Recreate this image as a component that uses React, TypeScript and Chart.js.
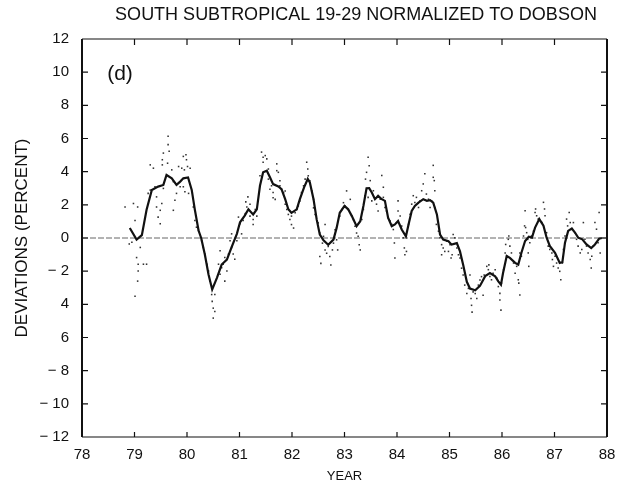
import React, { useEffect, useRef } from "react";
import { Chart, registerables } from "chart.js";

Chart.register(...registerables);

const TITLE = "SOUTH SUBTROPICAL 19-29 NORMALIZED TO DOBSON";
const X_TITLE = "YEAR";
const Y_TITLE = "DEVIATIONS (PERCENT)";
const PANEL_LABEL = "(d)";

const X_TICKS = [78, 79, 80, 81, 82, 83, 84, 85, 86, 87, 88];
const X_TICK_LABELS = ["78", "79", "80", "81", "82", "83", "84", "85", "86", "87", "88"];
const Y_TICKS = [12, 10, 8, 6, 4, 2, 0, -2, -4, -6, -8, -10, -12];
const Y_TICK_LABELS = ["12", "10", "8", "6", "4", "2", "0", "\u2212 2", "4", "6", "\u2212 8", "\u2212 10", "\u2212 12"];

// smoothed series
const LINE_YEARS = [
  78.91, 79.04, 79.14, 79.23, 79.33, 79.45, 79.55, 79.61, 79.71, 79.8, 79.87, 79.93, 80.02, 80.09, 80.15, 80.22,
  80.27, 80.34, 80.41, 80.48, 80.57, 80.66, 80.76, 80.85, 80.95, 81.01, 81.1, 81.17, 81.26, 81.33, 81.39, 81.45,
  81.52, 81.58, 81.64, 81.74, 81.8, 81.87, 81.93, 81.99, 82.09, 82.15, 82.23, 82.3, 82.34, 82.41, 82.47, 82.53,
  82.6, 82.69, 82.79, 82.85, 82.91, 83.0, 83.07, 83.14, 83.23, 83.3, 83.36, 83.42, 83.47, 83.52, 83.58, 83.64,
  83.71, 83.77, 83.83, 83.9, 83.96, 84.02, 84.09, 84.17, 84.22, 84.28, 84.34, 84.41, 84.5, 84.57, 84.63, 84.69,
  84.76, 84.82, 84.88, 84.98, 85.04, 85.14, 85.2, 85.26, 85.33, 85.39, 85.49, 85.58, 85.68, 85.77, 85.87, 85.93,
  85.98, 86.02, 86.09, 86.15, 86.25, 86.31, 86.37, 86.44, 86.51, 86.57, 86.63, 86.71, 86.79, 86.85, 86.91, 87.01,
  87.1, 87.15, 87.2, 87.26, 87.33, 87.39, 87.45, 87.53, 87.61, 87.7, 87.77, 87.85, 87.9,
];
const LINE_VALUES = [
  0.6, -0.1, 0.17, 1.7, 2.9, 3.1, 3.2, 3.8, 3.6, 3.2, 3.4, 3.6, 3.65, 2.9, 1.7, 0.45,
  0.0, -1.0, -2.2, -3.1, -2.4, -1.6, -1.3, -0.55, 0.25, 0.95, 1.35, 1.73, 1.42, 1.73, 3.15, 3.96,
  4.06, 3.66, 3.25, 3.11, 2.95, 2.34, 1.73, 1.52, 1.73, 2.34, 3.05, 3.56, 3.35, 2.34, 1.12, 0.2,
  -0.14, -0.41, -0.1, 0.61, 1.52, 1.93, 1.73, 1.32, 0.71, 1.01, 1.93, 3.0, 3.01, 2.74, 2.34, 2.54,
  2.34, 2.24, 1.22, 0.71, 0.82, 1.02, 0.51, 0.1, 0.82, 1.63, 1.93, 2.13, 2.34, 2.24, 2.28, 2.13,
  1.42, 0.21, -0.1, -0.2, -0.4, -0.31, -0.81, -1.62, -2.64, -3.05, -3.15, -2.89, -2.3, -2.12, -2.31, -2.62,
  -2.82, -2.11, -1.09, -1.2, -1.5, -1.6, -0.89, -0.18, 0.08, 0.02, 0.63, 1.14, 0.74, 0.02, -0.48, -0.89,
  -1.5, -1.46, -0.28, 0.43, 0.57, 0.33, 0.02, -0.08, -0.39, -0.61, -0.39, -0.04, 0.0,
];

// individual (dotted) values
const DOT_YEARS = [
  78.82, 78.98, 79.06, 79.01, 78.95, 78.9, 79.11, 79.04, 79.07, 79.17, 79.07, 79.23, 79.06, 79.01, 79.26, 79.3,
  79.3, 79.36, 79.39, 79.42, 79.45, 79.49, 79.49, 79.42, 79.52, 79.55, 79.55, 79.53, 79.53, 79.64, 79.64, 79.66,
  79.63, 79.71, 79.74, 79.74, 79.77, 79.8, 79.84, 79.87, 79.9, 79.93, 79.95, 79.98, 79.99, 80.01, 80.06, 79.93,
  79.96, 80.03, 80.12, 80.15, 80.18, 80.22, 80.28, 80.31, 80.34, 80.38, 80.41, 80.44, 80.47, 80.48, 80.5, 80.5,
  80.53, 80.53, 80.6, 80.63, 80.63, 80.66, 80.69, 80.72, 80.72, 80.76, 80.79, 80.82, 80.85, 80.85, 80.88, 80.91,
  80.95, 80.98, 81.01, 81.04, 81.07, 81.11, 81.12, 81.14, 81.16,
  81.2, 81.2, 81.26, 81.26, 81.3, 81.33, 81.39, 81.42, 81.45, 81.45, 81.49, 81.52, 81.55, 81.55, 81.58, 81.61,
  81.64, 81.64, 81.68, 81.71, 81.71, 81.74, 81.77, 81.77, 81.8, 81.84, 81.87, 81.87, 81.9, 81.93, 81.96, 81.99,
  81.99, 82.03, 82.06, 82.09, 82.12, 82.15, 82.18, 82.22, 82.25, 82.28, 82.3, 82.31, 82.34, 82.38, 82.41, 82.41,
  82.44, 82.5, 82.53, 82.53, 82.55, 82.58, 82.6, 82.63, 82.63, 82.66, 82.69, 82.72, 82.74, 82.77, 82.79, 82.82,
  82.85, 82.87, 82.91, 82.95, 82.98, 83.01, 83.04, 83.07, 83.11, 83.14, 83.17, 83.2, 83.23, 83.26, 83.28, 83.3,
  83.33, 83.36, 83.39, 83.4, 83.42, 83.45, 83.47,
  83.49, 83.45, 83.52, 83.55, 83.61, 83.64, 83.68, 83.71, 83.74, 83.74, 83.77, 83.8, 83.83, 83.87, 83.9, 83.93,
  83.95, 83.96, 83.99, 84.02, 84.02, 84.06, 84.09, 84.12, 84.14, 84.15, 84.18, 84.22, 84.25, 84.28, 84.31, 84.34,
  84.37, 84.41, 84.44, 84.47, 84.5, 84.53, 84.56, 84.6, 84.63, 84.66, 84.69, 84.69, 84.71, 84.72, 84.72, 84.75,
  84.79, 84.82, 84.85, 84.85, 84.88, 84.91, 84.95, 84.98, 85.01, 85.03, 85.05, 85.07, 85.1, 85.14, 85.17, 85.2,
  85.23, 85.26, 85.29, 85.33, 85.36, 85.39, 85.41, 85.42, 85.43, 85.45, 85.49, 85.52, 85.55, 85.58, 85.61, 85.64,
  85.66, 85.71, 85.74, 85.75,
  85.77, 85.8, 85.83, 85.87, 85.9, 85.93, 85.96, 85.96, 85.98, 85.99, 86.03, 86.06, 86.07, 86.09, 86.12, 86.13,
  86.15, 86.18, 86.22, 86.25, 86.28, 86.31, 86.32, 86.34, 86.34, 86.37, 86.41, 86.43, 86.44, 86.45, 86.47, 86.49,
  86.5, 86.51, 86.53, 86.56, 86.6, 86.63, 86.64, 86.66, 86.69, 86.76, 86.79, 86.81, 86.82, 86.85, 86.88, 86.91,
  86.95, 86.96, 86.98, 87.01, 87.04, 87.07, 87.1, 87.12, 87.15, 87.17, 87.2, 87.23, 87.25, 87.28, 87.3, 87.33,
  87.36, 87.39, 87.42, 87.45, 87.49, 87.52, 87.55, 87.58, 87.61, 87.64, 87.68, 87.7, 87.71, 87.74, 87.77, 87.8,
  87.83, 87.85, 87.87,
];
const DOT_VALUES = [
  1.87, 2.08, 1.87, 1.06, -0.26, -0.36, -0.57, -1.18, -1.58, -1.58, -1.99, -1.58, -2.6, -3.51, 2.69, 2.89,
  4.41, 4.21, 3.09, 1.87, 1.26, 1.67, 0.86, 2.48, 2.08, 2.99, 5.12, 4.72, 4.41, 6.14, 5.63, 5.23,
  4.51, 4.11, 3.4, 1.67, 2.28, 2.69, 4.31, 3.09, 4.21, 4.92, 4.11, 5.02, 4.72, 4.31, 4.21, 3.09,
  2.79, 2.69, 1.87, 1.06, 0.65, 0.45, -0.16, -0.57, -0.97, -1.58, -1.99, -2.6, -3.41, -3.82, -4.23, -4.83,
  -3.41, -4.43, -1.58, -0.77, -2.19, -1.79, -1.58, -1.18, -2.6, -1.99, -0.97, -0.16, -0.57, 0.25, -0.97, -1.28,
  -0.16, 1.26, 0.86, 0.25, 1.06, 1.47, 2.18, 1.87, 2.48,
  2.03, 1.32, 1.11, 0.81, 1.72, 1.32, 3.75, 5.18, 4.87, 4.57, 4.97, 4.77, 4.16, 3.55, 2.94, 3.15,
  2.74, 2.43, 2.33, 4.47, 4.06, 3.96, 3.45, 3.15, 2.94, 2.74, 2.84, 2.03, 1.72, 1.42, 1.11, 1.32,
  0.81, 0.6, 1.52, 1.72, 1.93, 2.23, 2.74, 3.15, 3.55, 4.57, 4.16, 3.75, 3.45, 2.84, 2.33, 1.82,
  1.42, 0.91, 0.3, -1.12, -1.53, -0.31, 0.1, 0.81, -0.72, -0.92, -0.51, -1.12, -1.63, -0.72, -0.31, 0.5,
  -0.11, -0.72, 1.32, 1.72, 2.13, 1.93, 2.84, 1.72, 2.33, 1.32, 1.11, 0.71, 0.3, 0.1, -0.41, -0.72,
  1.11, 1.72, 2.54, 3.55, 3.96, 4.87, 4.36,
  3.46, 2.45, 2.24, 2.85, 2.04, 1.63, 2.34, 3.77, 3.06, 2.45, 1.84, 1.63, 1.23, 1.02, 0.82, 0.51,
  -0.3, -1.21, 0.92, 1.63, 2.24, 1.33, 0.72, 0.01, -0.6, -1.01, -0.81, 0.82, 1.43, 2.04, 2.55, 2.14,
  2.45, 1.84, 2.24, 2.85, 3.26, 3.87, 2.65, 2.34, 1.84, 2.24, 4.38, 3.66, 3.46, 2.85, 1.84, 0.82,
  0.41, 0.01, -0.4, -1.01, -0.6, -0.81, -0.2, -0.81, -0.4, -1.21, -1.01, 0.21, 0.01, -0.6, -1.01, -1.21,
  -1.82, -2.23, -2.84, -3.35, -3.04, -2.23, -3.65, -4.06, -4.47, -3.25, -3.35, -3.65, -2.84, -2.53, -2.33, -3.45,
  -2.23, -1.71, -1.91, -1.62,
  -2.32, -2.52, -2.12, -1.91, -2.42, -2.93, -3.34, -3.74, -4.35, -2.72, -1.91, -0.9, -0.39, -1.1, -0.08, 0.12,
  -0.49, -0.9, -1.51, -2.12, -1.71, -2.52, -2.72, -3.44, -0.9, -1.1, 0.12, 0.73, 1.64, 0.63, 0.32, -0.08,
  -0.9, -1.71, -0.29, 0.12, 0.42, 1.54, 1.75, 1.34, 1.14, 0.93, 2.15, 1.75, 1.34, 0.32, -0.49, -0.69,
  -0.9, -1.3, -1.71, -1.1, -1.51, -1.81, -2.01, -2.52, -1.51, -0.69, 0.12, 1.14, 0.73, 1.54, 0.93, 0.53,
  0.93, 0.32, -0.08, -0.49, -0.9, -0.69, 0.93, -0.08, -0.49, -0.9, -1.3, -1.81, -1.1, -0.49, 0.93, 0.53,
  -0.29, 1.54, -0.9,
];

const ZERO_LINE_YEARS = [78, 88];
const ZERO_LINE_VALUES = [0, 0];

const FONT = "'Liberation Sans', Arial, Helvetica, sans-serif";
const INK = "#111";

const framePlugin = {
  id: "frame",
  afterDraw(chart: any) {
    const { ctx, chartArea, scales } = chart;
    const { left, right, top, bottom } = chartArea;
    const xs = scales.x;
    const ys = scales.y;
    ctx.save();
    ctx.strokeStyle = INK;
    ctx.lineWidth = 1.2;
    ctx.beginPath();
    ctx.moveTo(left, top);
    ctx.lineTo(right, top);
    ctx.moveTo(left, bottom);
    ctx.lineTo(right, bottom);
    for (const t of xs.ticks) {
      const px = xs.getPixelForValue(t.value);
      ctx.moveTo(px, top);
      ctx.lineTo(px, top + 6);
      ctx.moveTo(px, bottom);
      ctx.lineTo(px, bottom - 5);
    }
    for (const t of ys.ticks) {
      const py = ys.getPixelForValue(t.value);
      ctx.moveTo(left, py);
      ctx.lineTo(left + 6, py);
      ctx.moveTo(right, py);
      ctx.lineTo(right - 6, py);
    }
    ctx.stroke();
    ctx.lineWidth = 2;
    ctx.beginPath();
    ctx.moveTo(left, top);
    ctx.lineTo(left, bottom);
    ctx.moveTo(right, top);
    ctx.lineTo(right, bottom);
    ctx.stroke();
    ctx.fillStyle = INK;
    ctx.font = `21px ${FONT}`;
    ctx.textBaseline = "middle";
    ctx.textAlign = "left";
    ctx.fillText(PANEL_LABEL, xs.getPixelForValue(78.48), ys.getPixelForValue(9.85));
    // chart title
    ctx.font = `18px ${FONT}`;
    ctx.textAlign = "center";
    ctx.fillText(TITLE, 356, 15);
    ctx.restore();
  },
};

export default function App() {
  const canvasRef = useRef<HTMLCanvasElement | null>(null);

  useEffect(() => {
    document.body.style.margin = "0";
    const canvas = canvasRef.current;
    if (!canvas) return;

    const line = LINE_YEARS.map((x, i) => ({ x, y: LINE_VALUES[i] }));
    const dots = DOT_YEARS.map((x, i) => ({ x, y: DOT_VALUES[i] }));
    const zero = ZERO_LINE_YEARS.map((x, i) => ({ x, y: ZERO_LINE_VALUES[i] }));

    const chart = new Chart(canvas, {
      type: "scatter",
      data: {
        datasets: [
          {
            type: "line",
            data: line,
            borderColor: INK,
            borderWidth: 2.2,
            pointRadius: 0,
            tension: 0,
            fill: false,
            order: 0,
          },
          {
            type: "scatter",
            data: dots,
            backgroundColor: "#333",
            borderWidth: 0,
            pointRadius: 1.1,
            pointStyle: "rect",
            order: 1,
          },
          {
            type: "line",
            data: zero,
            borderColor: "#666",
            borderWidth: 1,
            borderDash: [6, 2],
            pointRadius: 0,
            fill: false,
            order: 2,
          },
        ] as any,
      },
      options: {
        animation: false,
        responsive: false,
        events: [],
        layout: { padding: { left: 0, right: 20, top: 39, bottom: 0 } },
        plugins: {
          legend: { display: false },
          tooltip: { enabled: false },
          title: { display: false },
        },
        scales: {
          x: {
            type: "linear",
            min: 78,
            max: 88,
            afterFit: (s: any) => {
              s.height = 52;
            },
            afterBuildTicks: (s: any) => {
              s.ticks = X_TICKS.map((v) => ({ value: v }));
            },
            grid: { display: false, drawTicks: false },
            border: { display: false },
            ticks: {
              color: INK,
              font: { family: FONT, size: 15 },
              padding: 9,
              maxRotation: 0,
              callback: (v: any) => {
                const i = X_TICKS.indexOf(Number(v));
                return i >= 0 ? X_TICK_LABELS[i] : "";
              },
            },
            title: {
              display: true,
              text: X_TITLE,
              color: INK,
              font: { family: FONT, size: 13 },
              padding: { top: 0, bottom: 5 },
            },
          },
          y: {
            type: "linear",
            min: -12,
            max: 12,
            afterFit: (s: any) => {
              s.width = 82;
            },
            afterBuildTicks: (s: any) => {
              s.ticks = Y_TICKS.map((v) => ({ value: v }));
            },
            grid: { display: false, drawTicks: false },
            border: { display: false },
            ticks: {
              color: INK,
              font: { family: FONT, size: 15 },
              padding: 13,
              callback: (v: any) => {
                const i = Y_TICKS.indexOf(Number(v));
                return i >= 0 ? Y_TICK_LABELS[i] : "";
              },
            },
            title: {
              display: true,
              text: Y_TITLE,
              color: INK,
              font: { family: FONT, size: 17 },
              padding: { top: 12, bottom: 0 },
            },
          },
        },
      },
      plugins: [framePlugin],
    } as any);

    return () => chart.destroy();
  }, []);

  return (
    <div style={{ width: 627, height: 489, position: "relative", background: "#fff" }}>
      <canvas ref={canvasRef} width={627} height={489} style={{ display: "block" }} />
    </div>
  );
}
